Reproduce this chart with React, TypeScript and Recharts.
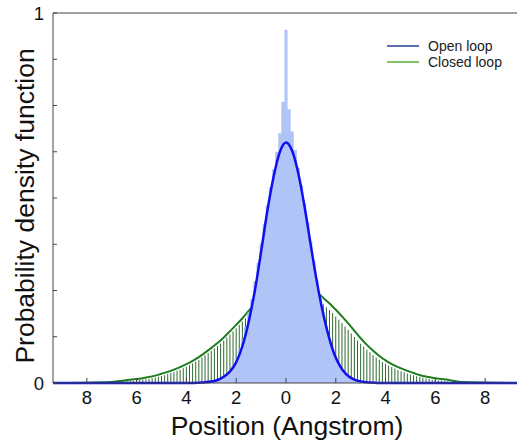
import React from 'react';
import { ComposedChart, XAxis, YAxis, Area, Bar, Line, Legend } from 'recharts';

const FONT = '"Liberation Sans", Arial, Helvetica, sans-serif';

// axis ticks (position in Angstrom, labels shown without sign)
const xTicks = [-8, -6, -4, -2, 0, 2, 4, 6, 8];
const yTicks = [0, 0.125, 0.25, 0.375, 0.5, 0.625, 0.75, 0.875, 1];
const yTickLabels: Record<number, string> = { 0: '0', 1: '1' };

// fitted curves
const curveX = [
  -9.36, -7, -6.5, -6.25, -6, -5.75, -5.5, -5.25, -5, -4.75, -4.5, -4.25, -4, -3.75,
  -3.5, -3.25, -3, -2.75, -2.5, -2.25, -2, -1.75, -1.5, -1.25, -1, -0.75, -0.5, -0.25,
  0, 0.25, 0.5, 0.75, 1, 1.25, 1.5, 1.75, 2, 2.25, 2.5, 2.75, 3, 3.25, 3.5,
  3.75, 4, 4.25, 4.5, 4.75, 5, 5.25, 5.5, 5.75, 6, 6.25, 6.5, 7, 9.36,
];
const openLoop = [
  0, 0, 0, 0, 0, 0, 0, 0, 0, 0, 0, 0, 0, 0,
  0.001, 0.002, 0.004, 0.008, 0.017, 0.031, 0.056, 0.1, 0.165, 0.25, 0.355, 0.465, 0.557, 0.624,
  0.65, 0.627, 0.565, 0.475, 0.37, 0.27, 0.185, 0.118, 0.068, 0.037, 0.019, 0.009, 0.004, 0.002, 0.001,
  0, 0, 0, 0, 0, 0, 0, 0, 0, 0, 0, 0, 0, 0,
];
const closedLoop = [
  0, 0.003, 0.007, 0.009, 0.011, 0.013, 0.016, 0.02, 0.025, 0.03, 0.036, 0.043, 0.051, 0.06,
  0.07, 0.082, 0.095, 0.108, 0.123, 0.14, 0.157, 0.175, 0.195, 0.214, 0.233, 0.25, 0.263, 0.272,
  0.276, 0.276, 0.272, 0.265, 0.256, 0.244, 0.23, 0.215, 0.198, 0.18, 0.161, 0.141, 0.121, 0.103, 0.087,
  0.073, 0.061, 0.051, 0.043, 0.036, 0.03, 0.024, 0.019, 0.016, 0.013, 0.011, 0.009, 0.003, 0,
];

// histograms, bins 0.125 Angstrom wide
const binWidth = 0.125;
const openHistStart = -3;
const openHist = [
  0.003, 0.005, 0.007, 0.011, 0.016, 0.024, 0.034, 0.048, 0.066, 0.09, 0.118, 0.152,
  0.19, 0.228, 0.275, 0.325, 0.378, 0.43, 0.48, 0.53, 0.578, 0.625, 0.675, 0.76,
  0.955,
  0.74, 0.68, 0.63, 0.582, 0.535, 0.485, 0.435, 0.382, 0.33, 0.28, 0.232, 0.192,
  0.155, 0.12, 0.092, 0.068, 0.049, 0.035, 0.024, 0.016, 0.011, 0.007, 0.005, 0.003,
];
const closedHistStart = -6.5;
const closedHist = [
  0.004, 0.005, 0.005, 0.006, 0.007, 0.008, 0.009, 0.01, 0.011, 0.013, 0.015, 0.017, 0.019,
  0.021, 0.024, 0.027, 0.03, 0.033, 0.036, 0.04, 0.044, 0.048, 0.053, 0.058, 0.063, 0.069,
  0.075, 0.081, 0.087, 0.094, 0.1, 0.107, 0.115, 0.123, 0.131, 0.139, 0.148, 0.157, 0.166,
  0.175, 0.185, 0.195, 0.204, 0.213, 0.222, 0.23, 0.238, 0.245, 0.25, 0.255, 0.259, 0.262,
  0.263,
  0.263, 0.262, 0.26, 0.257, 0.253, 0.249, 0.244, 0.239, 0.233, 0.227, 0.22, 0.213, 0.205,
  0.197, 0.189, 0.18, 0.171, 0.162, 0.153, 0.144, 0.134, 0.124, 0.115, 0.106, 0.098, 0.09,
  0.083, 0.076, 0.069, 0.063, 0.057, 0.052, 0.047, 0.043, 0.039, 0.035, 0.032, 0.029, 0.026,
  0.023, 0.021, 0.018, 0.016, 0.014, 0.012, 0.011, 0.009, 0.008, 0.007, 0.006, 0.005, 0.004,
];

const legendItems = [
  { name: 'Open loop', color: '#2a3f9c' },
  { name: 'Closed loop', color: '#5cb030' },
];

// merge everything into one table keyed by position
const rowMap = new Map<number, any>();
const rowAt = (x: number) => {
  const k = Math.round(x * 1000) / 1000;
  if (!rowMap.has(k)) rowMap.set(k, { x: k });
  return rowMap.get(k);
};
curveX.forEach((x, i) => {
  const r = rowAt(x);
  r.open = openLoop[i];
  r.closed = closedLoop[i];
});
openHist.forEach((v, i) => {
  rowAt(openHistStart + i * binWidth).openHist = v;
});
closedHist.forEach((v, i) => {
  rowAt(closedHistStart + i * binWidth).closedHist = v;
});
const data = Array.from(rowMap.values()).sort((a, b) => a.x - b.x);

const renderLegend = () => (
  <div style={{ fontFamily: FONT, fontSize: 14, color: '#222' }}>
    {legendItems.map((item) => (
      <div key={item.name} style={{ display: 'flex', alignItems: 'center', height: 16.5 }}>
        <svg width={32} height={16} style={{ display: 'block' }}>
          <line x1={0} x2={32} y1={8} y2={8} stroke={item.color} strokeWidth={1.5} />
        </svg>
        <span style={{ display: 'block', marginLeft: 9, lineHeight: '16px', whiteSpace: 'nowrap' }}>
          {item.name}
        </span>
      </div>
    ))}
  </div>
);

export default function App() {
  return (
    <div style={{ position: 'absolute', left: 0, top: 0, width: 517, height: 445, overflow: 'hidden', background: '#fff' }}>
      <ComposedChart width={530} height={445} data={data} margin={{ top: 12, right: 11, bottom: 0, left: 0 }}>
        <XAxis
          dataKey="x"
          type="number"
          domain={[-9.36, 9.36]}
          allowDataOverflow
          ticks={xTicks}
          tickFormatter={(v: number) => String(Math.abs(v))}
          tickSize={-5}
          tickMargin={12.5}
          height={62}
          stroke="#444"
          tick={{ fontSize: 18.5, fill: '#111', fontFamily: FONT }}
          label={{
            content: () => (
              <text x={287} y={426} textAnchor="middle" dominantBaseline="central" fontSize={26.5} fontFamily={FONT} fill="#111">
                Position (Angstrom)
              </text>
            ),
          }}
        />
        <XAxis
          xAxisId="top"
          dataKey="x"
          type="number"
          orientation="top"
          domain={[-9.36, 9.36]}
          allowDataOverflow
          ticks={xTicks}
          tick={false}
          tickSize={-5}
          height={1}
          stroke="#444"
        />
        <YAxis
          type="number"
          domain={[0, 1]}
          ticks={yTicks}
          tickFormatter={(v: number) => yTickLabels[v] ?? ''}
          tickSize={-4}
          tickMargin={13}
          width={53}
          stroke="#444"
          tick={{ fontSize: 18.5, fill: '#111', fontFamily: FONT }}
          label={{
            content: () => (
              <text x={25} y={206} transform="rotate(-90 25 206)" textAnchor="middle" dominantBaseline="central" fontSize={26.5} fontFamily={FONT} fill="#111">
                Probability density function
              </text>
            ),
          }}
        />
        <Legend
          layout="vertical"
          align="center"
          verticalAlign="middle"
          wrapperStyle={{ left: 387, top: 37.5, width: 130 }}
          content={renderLegend}
        />
        <Bar dataKey="closedHist" barSize={1} fill="#2f6a2f" isAnimationActive={false} />
        <Line dataKey="closed" type="monotone" stroke="#1e7d1e" strokeWidth={2} dot={false} activeDot={false} connectNulls zIndex={320} isAnimationActive={false} />
        <Area
          dataKey="openHist"
          type="step"
          stroke="none"
          fill="#b0c4f8"
          fillOpacity={1}
          dot={false}
          activeDot={false}
          zIndex={350}
          isAnimationActive={false}
        />
        <Line dataKey="open" type="monotone" stroke="#0f10ee" strokeWidth={2.5} dot={false} activeDot={false} connectNulls zIndex={400} isAnimationActive={false} />
      </ComposedChart>
    </div>
  );
}
